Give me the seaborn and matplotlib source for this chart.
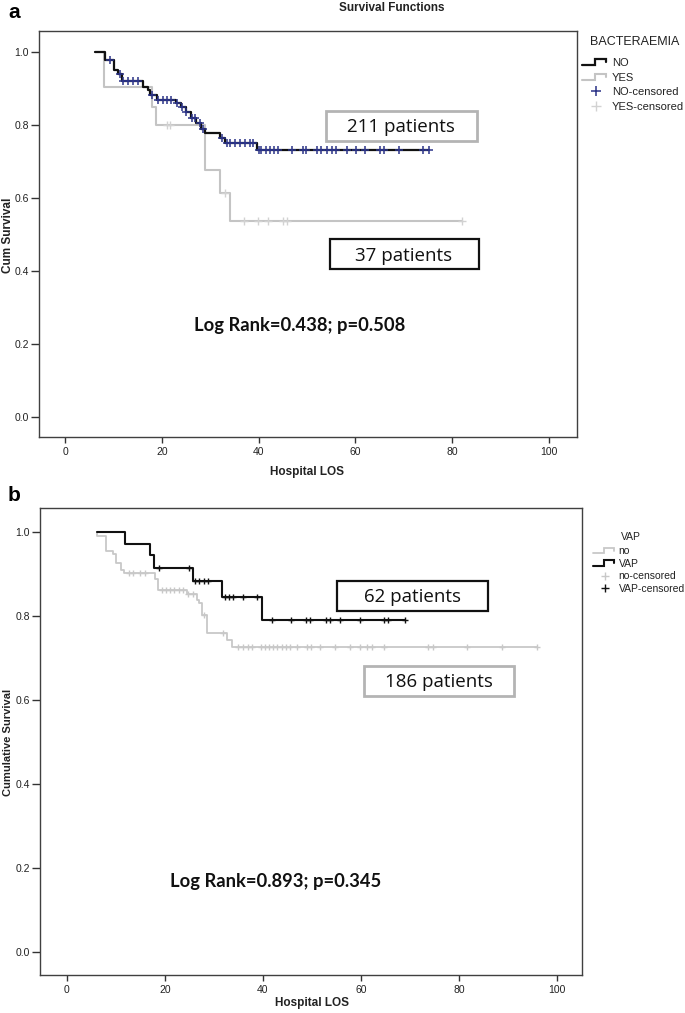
import numpy as np
import pandas as pd
import matplotlib
matplotlib.use("Agg")
import matplotlib.pyplot as plt
import seaborn as sns
from matplotlib.lines import Line2D
from matplotlib.legend_handler import HandlerBase
from matplotlib.patches import Rectangle

# ---------------- data ----------------
x_ticks = [0, 20, 40, 60, 80, 100]
y_ticks = [0.0, 0.2, 0.4, 0.6, 0.8, 1.0]

# Panel a : BACTERAEMIA
bact_groups = ["NO", "YES"]
bact_no_start = 6.2
bact_no_event_times = [8.3, 10.1, 11.0, 11.7, 16.1, 17.2, 17.6, 19.0, 23.0, 24.0, 25.0, 26.0,
                       27.0, 28.0, 29.0, 32.0, 33.0, 39.7]
bact_no_surv = [0.978, 0.951, 0.940, 0.919, 0.905, 0.895, 0.882, 0.868, 0.860, 0.849, 0.834, 0.820,
                0.806, 0.790, 0.777, 0.763, 0.750, 0.730]
bact_no_censor = [9.2, 11.4, 12.0, 13.1, 14.1, 15.1, 17.9, 19.3, 20.3, 21.1, 22.0, 23.1, 24.1, 25.1,
                  26.2, 26.9, 27.9, 28.6, 32.4, 33.4, 34.1, 35.1, 36.2, 37.2, 38.2, 38.8, 40.0, 40.6,
                  41.5, 42.4, 43.2, 44.1, 47.0, 49.1, 49.8, 52.0, 53.0, 54.1, 55.1, 56.1, 58.2, 60.1,
                  62.0, 65.1, 65.9, 69.0, 73.9, 75.3]
bact_yes_start = 6.2
bact_yes_event_times = [8.0, 17.9, 18.9, 28.9, 32.0, 34.1]
bact_yes_surv = [0.905, 0.850, 0.800, 0.677, 0.613, 0.538]
bact_yes_censor = [21.0, 21.7, 33.1, 37.0, 39.9, 42.0, 45.1, 45.9, 82.0]

# Panel b : VAP
vap_groups = ["no", "VAP"]
vap_no_start = 6.1
vap_no_event_times = [6.15, 8.0, 9.5, 10.1, 11.0, 11.7, 18.0, 18.7, 24.5, 26.5, 26.9, 27.5, 28.5,
                      32.6, 33.8]
vap_no_surv = [0.990, 0.955, 0.947, 0.925, 0.910, 0.902, 0.887, 0.862, 0.852, 0.838, 0.831, 0.802,
               0.760, 0.743, 0.725]
vap_no_censor = [12.6, 13.6, 14.9, 16.0, 19.4, 20.3, 21.1, 21.9, 22.8, 23.8, 24.8, 25.8, 27.9, 31.9,
                 35.0, 36.0, 37.0, 37.8, 39.7, 40.4, 41.3, 42.1, 42.9, 43.8, 44.7, 45.5, 46.9, 48.9,
                 49.8, 51.7, 54.7, 57.8, 59.8, 61.2, 62.2, 64.6, 73.7, 74.6, 81.6, 88.7, 95.9]
vap_yes_start = 6.1
vap_yes_event_times = [11.9, 17.0, 17.7, 25.8, 31.7, 39.8]
vap_yes_surv = [0.971, 0.945, 0.913, 0.882, 0.845, 0.790]
vap_yes_censor = [18.8, 25.0, 26.2, 27.0, 28.0, 28.9, 32.2, 33.0, 33.9, 36.0, 38.7, 41.8, 45.7, 48.8,
                  49.6, 52.9, 53.7, 55.7, 59.8, 64.7, 65.6, 69.0]

bact_counts = ["211 patients", "37 patients"]
vap_counts = ["62 patients", "186 patients"]
bact_stat = "Log Rank=0.438; p=0.508"
vap_stat = "Log Rank=0.893; p=0.345"

# ---------------- helpers ----------------
def km_frame(start, times, surv, end):
    return pd.DataFrame({"t": [start] + list(times) + [end],
                         "s": [1.0] + list(surv) + [surv[-1]]})

def censor_frame(times, surv, ctimes):
    idx = np.searchsorted(np.asarray(times), np.asarray(ctimes), side="right")
    lv = np.concatenate([[1.0], surv])[idx]
    return pd.DataFrame({"t": ctimes, "s": lv})

class StepHandler(HandlerBase):
    def create_artists(self, legend, orig_handle, xdescent, ydescent, width, height, fontsize, trans):
        xs = np.array([0.0, 0.45, 0.45, 0.88, 0.88]) * width - xdescent
        ys = np.array([0.1, 0.1, 0.85, 0.85, 0.45]) * height - ydescent
        ln = Line2D(xs, ys, color=orig_handle.get_color(), lw=orig_handle.get_linewidth(),
                    solid_joinstyle="miter")
        ln.set_transform(trans)
        return [ln]

sns.set_style("ticks")
plt.rcParams["font.family"] = ["Liberation Sans", "DejaVu Sans"]

W, H = 685, 1013
fig = plt.figure(figsize=(W / 100, H / 100), dpi=100)
fig.patch.set_facecolor("white")

def fx(x):
    return x / W

def fy(y):
    return 1 - y / H

def add_box(x0, y0, x1, y1, ec, lw, text):
    r = Rectangle((fx(x0), fy(y1)), fx(x1) - fx(x0), fy(y0) - fy(y1), transform=fig.transFigure,
                  fc="white", ec=ec, lw=lw, zorder=5)
    fig.add_artist(r)
    fig.text(fx((x0 + x1) / 2), fy((y0 + y1) / 2 + 1), text, ha="center", va="center",
             fontsize=13.5, family=["Open Sans", "DejaVu Sans"], color="#111111", zorder=6)

def style_axes(ax, xlim, ylim):
    ax.set_xlim(*xlim)
    ax.set_ylim(*ylim)
    ax.set_xticks(x_ticks)
    ax.set_yticks(y_ticks)
    ax.set_xticklabels([str(v) for v in x_ticks])
    ax.set_yticklabels([f"{v:.1f}" for v in y_ticks])
    ax.set_xlabel("")
    ax.set_ylabel("")
    for sp in ax.spines.values():
        sp.set_visible(True)
        sp.set_color("#404040")
        sp.set_linewidth(1.0)
    ax.tick_params(axis="y", direction="out", length=5.5, width=1.0, colors="#333333", labelsize=7.5,
                   labelcolor="#222222", pad=1.5, right=False)
    ax.tick_params(axis="x", direction="out", length=4.5, width=1.0, colors="#333333", labelsize=7.5,
                   labelcolor="#222222", pad=2.5, top=False)
    ax.set_facecolor("white")
    if ax.get_legend() is not None:
        ax.get_legend().remove()

# ---------------- panel a ----------------
ax_a = fig.add_axes([fx(38.5), fy(437), fx(577) - fx(38.5), fy(30.7) - fy(437)])
c_no_line, c_no_cens = "#111111", "#2b3387"
c_yes_line, c_yes_cens = "#c4c4c4", "#d2d2d2"

sns.lineplot(data=km_frame(bact_yes_start, bact_yes_event_times, bact_yes_surv, max(bact_yes_censor)),
             x="t", y="s", drawstyle="steps-post", color=c_yes_line, lw=1.5, estimator=None,
             sort=False, ax=ax_a)
sns.scatterplot(data=censor_frame(bact_yes_event_times, bact_yes_surv, bact_yes_censor), x="t", y="s",
                marker="+", s=30, color=c_yes_cens, linewidth=1.0, ax=ax_a, zorder=3)
sns.lineplot(data=km_frame(bact_no_start, bact_no_event_times, bact_no_surv, max(bact_no_censor)),
             x="t", y="s", drawstyle="steps-post", color=c_no_line, lw=1.6, estimator=None,
             sort=False, ax=ax_a)
sns.scatterplot(data=censor_frame(bact_no_event_times, bact_no_surv, bact_no_censor), x="t", y="s",
                marker="+", s=30, color=c_no_cens, linewidth=1.1, ax=ax_a, zorder=4)
style_axes(ax_a, (-5.48, 105.8), (-0.055, 1.058))

h_no = Line2D([], [], color=c_no_line, lw=1.6)
h_yes = Line2D([], [], color=c_yes_line, lw=1.5)
h_noc = Line2D([], [], ls="none", marker="+", color=c_no_cens, markersize=7, mew=1.1)
h_yesc = Line2D([], [], ls="none", marker="+", color=c_yes_cens, markersize=7, mew=1.0)
leg_a = fig.legend([h_no, h_yes, h_noc, h_yesc],
                   [bact_groups[0], bact_groups[1], bact_groups[0] + "-censored", bact_groups[1] + "-censored"],
                   loc="upper left", bbox_to_anchor=(fx(582), fy(58)), bbox_transform=fig.transFigure,
                   frameon=False, fontsize=8, handlelength=2.5, handletextpad=0.2, labelspacing=0.42,
                   borderaxespad=0, borderpad=0, numpoints=1,
                   handler_map={h_no: StepHandler(), h_yes: StepHandler()})
for t in leg_a.get_texts():
    t.set_color("#222222")
fig.text(fx(590), fy(42), "BACTERAEMIA", ha="left", va="center", fontsize=9, color="#222222")

fig.text(fx(392), fy(8), "Survival Functions", ha="center", va="center", fontsize=8.5,
         fontweight="bold", color="#222222")
fig.text(fx(14), fy(13), "a", ha="center", va="center", fontsize=15, fontweight="bold", color="black")
fig.text(fx(8), fy(235), "Cum Survival", ha="center", va="center", rotation=90, fontsize=8.5,
         fontweight="bold", color="#222222")
fig.text(fx(307), fy(472), "Hospital LOS", ha="center", va="center", fontsize=8.5,
         fontweight="bold", color="#222222")

add_box(325.5, 111, 476.5, 141, "#b4b4b4", 2.0, bact_counts[0])
add_box(329.5, 239.5, 478.5, 269.5, "#111111", 1.6, bact_counts[1])
fig.text(fx(300), fy(325), bact_stat, ha="center", va="center", fontsize=13.2, fontweight="bold",
         family=["Lato", "DejaVu Sans"], color="#111111")

# ---------------- panel b ----------------
ax_b = fig.add_axes([fx(39.7), fy(975), fx(581.7) - fx(39.7), fy(508) - fy(975)])
c_vno_line, c_vno_cens = "#c8c8c8", "#c8c8c8"
c_vap_line, c_vap_cens = "#111111", "#111111"

sns.lineplot(data=km_frame(vap_no_start, vap_no_event_times, vap_no_surv, max(vap_no_censor)),
             x="t", y="s", drawstyle="steps-post", color=c_vno_line, lw=1.3, estimator=None,
             sort=False, ax=ax_b)
sns.scatterplot(data=censor_frame(vap_no_event_times, vap_no_surv, vap_no_censor), x="t", y="s",
                marker="+", s=22, color=c_vno_cens, linewidth=1.0, ax=ax_b, zorder=3)
sns.lineplot(data=km_frame(vap_yes_start, vap_yes_event_times, vap_yes_surv, max(vap_yes_censor)),
             x="t", y="s", drawstyle="steps-post", color=c_vap_line, lw=1.5, estimator=None,
             sort=False, ax=ax_b)
sns.scatterplot(data=censor_frame(vap_yes_event_times, vap_yes_surv, vap_yes_censor), x="t", y="s",
                marker="+", s=22, color=c_vap_cens, linewidth=1.0, ax=ax_b, zorder=4)
style_axes(ax_b, (-5.51, 105.0), (-0.055, 1.057))

g_no = Line2D([], [], color=c_vno_line, lw=1.3)
g_vap = Line2D([], [], color=c_vap_line, lw=1.5)
g_noc = Line2D([], [], ls="none", marker="+", color=c_vno_cens, markersize=6, mew=1.0)
g_vapc = Line2D([], [], ls="none", marker="+", color=c_vap_cens, markersize=6, mew=1.0)
leg_b = fig.legend([g_no, g_vap, g_noc, g_vapc],
                   [vap_groups[0], vap_groups[1], vap_groups[0] + "-censored", vap_groups[1] + "-censored"],
                   loc="upper left", bbox_to_anchor=(fx(593), fy(546)), bbox_transform=fig.transFigure,
                   frameon=False, fontsize=7.5, handlelength=2.3, handletextpad=0.15, labelspacing=0.25,
                   borderaxespad=0, borderpad=0, numpoints=1,
                   handler_map={g_no: StepHandler(), g_vap: StepHandler()})
for t in leg_b.get_texts():
    t.set_color("#222222")
fig.text(fx(631), fy(537), "VAP", ha="center", va="center", fontsize=7.5, color="#222222")

fig.text(fx(14), fy(495), "b", ha="center", va="center", fontsize=15, fontweight="bold", color="black")
fig.text(fx(8), fy(742), "Cumulative Survival", ha="center", va="center", rotation=90, fontsize=8,
         fontweight="bold", color="#222222")
fig.text(fx(312), fy(1003), "Hospital LOS", ha="center", va="center", fontsize=8.5,
         fontweight="bold", color="#222222")

add_box(337, 581, 487.5, 611, "#111111", 1.6, vap_counts[0])
add_box(364, 665.5, 514, 695.5, "#b4b4b4", 2.0, vap_counts[1])
fig.text(fx(276), fy(881), vap_stat, ha="center", va="center", fontsize=13.2, fontweight="bold",
         family=["Lato", "DejaVu Sans"], color="#111111")

fig.savefig("out.png", dpi=100, facecolor="white")
